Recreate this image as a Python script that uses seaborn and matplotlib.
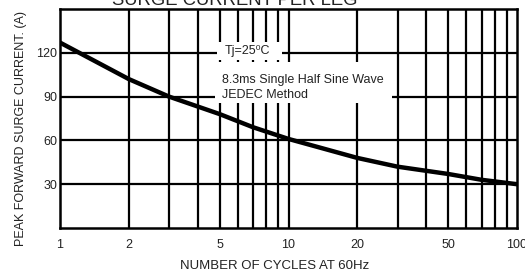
import matplotlib
matplotlib.use("Agg")
import matplotlib.pyplot as plt
import seaborn as sns
import pandas as pd
from matplotlib.patches import Rectangle

cycles = [1, 2, 3, 5, 7, 10, 20, 30, 50, 70, 100]
current = [127, 102, 90, 78, 69, 61, 48, 42, 37, 33, 30]
x_ticks = [1, 2, 5, 10, 20, 50, 100]
x_grid = [2, 3, 4, 5, 6, 7, 8, 9, 10, 20, 30, 40, 50, 60, 70, 80, 90]
y_ticks = [30, 60, 90, 120]

sns.set_theme(style="white")
plt.rcParams['font.family'] = ['Liberation Sans', 'DejaVu Sans']

fig = plt.figure(figsize=(5.25, 2.74), dpi=100)
ax = fig.add_axes([60/525, 1-228/274, (517-60)/525, (228-9)/274])

df = pd.DataFrame({"cycles": cycles, "current": current})
ax.set_xscale("log")
ax.set_xlim(1, 100)
ax.set_ylim(0, 150)

for gx in x_grid:
    ax.axvline(gx, color="black", lw=1.6, zorder=1)
for gy in y_ticks:
    ax.axhline(gy, color="black", lw=1.6, zorder=1)

sns.lineplot(data=df, x="cycles", y="current", color="black", lw=3.2, ax=ax, zorder=4)

# white masks behind annotations
tr = fig.transFigure
fig.patches.append(Rectangle((217/525, 1-60/274), 65/525, 18/274, transform=tr,
                             facecolor="white", edgecolor="none", zorder=2))
fig.patches.append(Rectangle((215/525, 1-103/274), 177/525, 41/274, transform=tr,
                             facecolor="white", edgecolor="none", zorder=2))
fig.text(225/525, 1-54/274, "Tj=25⁰C", ha="left", va="baseline", fontsize=9,
         color="#222222", zorder=3)
fig.text(222/525, 1-83/274, "8.3ms Single Half Sine Wave", ha="left",
         va="baseline", fontsize=9, color="#222222", zorder=3)
fig.text(222/525, 1-98/274, "JEDEC Method", ha="left",
         va="baseline", fontsize=9, color="#222222", zorder=3)

ax.set_xticks(x_ticks)
ax.set_xticklabels([str(t) for t in x_ticks])
ax.xaxis.set_minor_locator(matplotlib.ticker.NullLocator())
ax.set_yticks(y_ticks)
ax.set_yticklabels([str(t) for t in y_ticks])
ax.tick_params(axis="both", length=0, labelsize=9, colors="#222222", pad=2)
ax.tick_params(axis="x", pad=8)

for s in ax.spines.values():
    s.set_color("black")
    s.set_linewidth(1.8)

ax.set_xlabel("NUMBER OF CYCLES AT 60Hz", fontsize=9.5, color="#222222")
ax.xaxis.set_label_coords((275-60)/457, -(266-228)/219)
ax.xaxis.label.set_va("center")
ax.set_ylabel("PEAK FORWARD SURGE CURRENT. (A)", fontsize=9, color="#222222")
ax.yaxis.set_label_coords(-39/457, (228-128.5)/219)
ax.yaxis.label.set_va("center")

fig.text(235/525, 1-5/274, "SURGE CURRENT PER LEG", ha="center", va="baseline",
         fontsize=13.3, color="#222222")

fig.savefig("out.png", dpi=100)
